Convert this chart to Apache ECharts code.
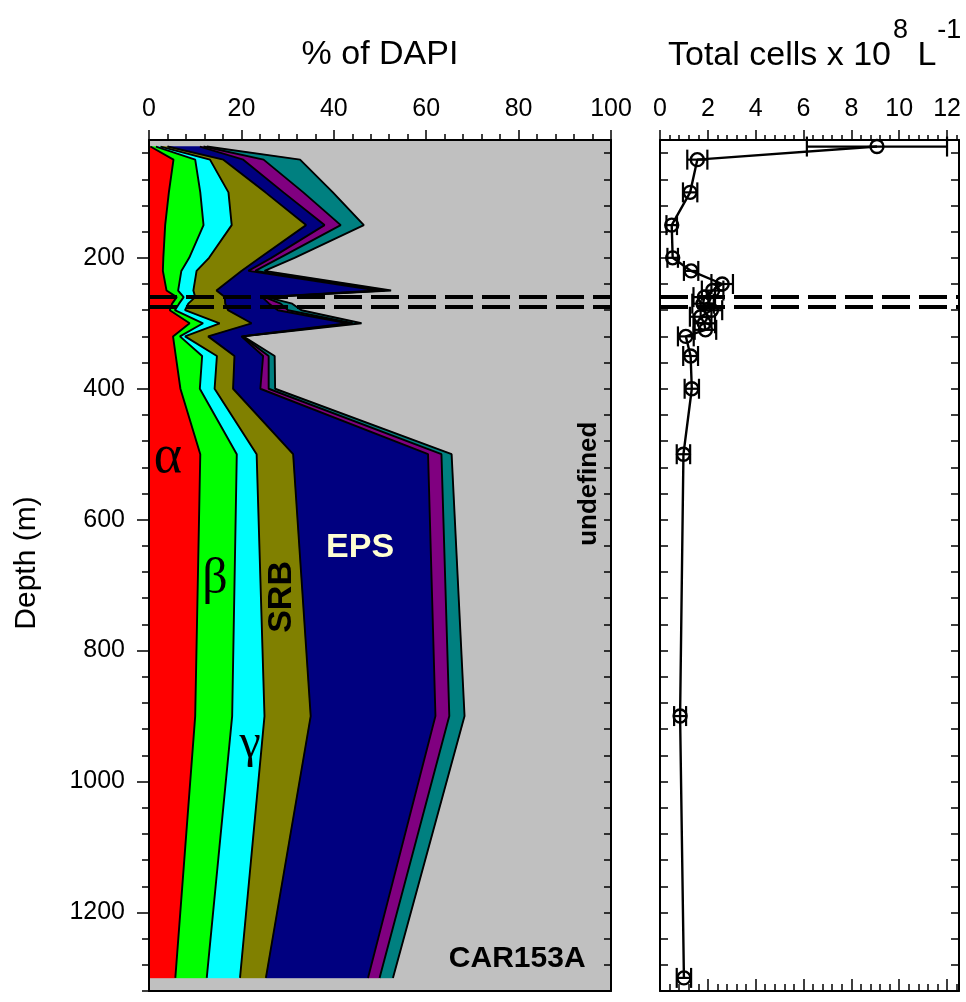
<!DOCTYPE html>
<html>
<head>
<meta charset="utf-8">
<script src="https://cdn.jsdelivr.net/npm/echarts@6.0.0/dist/echarts.min.js"></script>
<style>
html,body{margin:0;padding:0;background:#ffffff;}
#chart{width:966px;height:1002px;}
</style>
</head>
<body>
<div id="chart"></div>
<script>
// ---------------- data: % of DAPI per group, by depth (m) ----------------
const depths  = [30, 50, 100, 150, 200, 220, 250, 260, 270, 280, 300, 320, 350, 400, 500, 900, 1300];
const alpha   = [0.3, 5.3, 4.3, 3.5, 3.1, 3.0, 3.8, 6.0, 5.0, 4.5, 8.8, 5.2, 5.8, 6.8, 11.1, 10.0, 5.7];
const beta    = [1.2, 4.7, 6.8, 8.3, 5.6, 4.0, 2.5, 1.5, 1.5, 1.1, 2.9, 1.5, 5.7, 4.2, 7.9, 8.0, 6.8];
const gamma   = [1.0, 3.2, 6.1, 6.1, 4.3, 3.3, 3.3, 2.5, 2.0, 2.2, 3.6, 1.1, 3.2, 3.2, 4.3, 7.0, 7.2];
const srb     = [1.5, 2.9, 8.0, 16.1, 11.0, 9.7, 5.0, 6.4, 8.0, 9.3, 6.9, 5.0, 3.8, 4.0, 7.9, 10.0, 5.6];
const eps     = [7.0, 4.3, 3.9, 4.0, 2.5, 1.5, 34.9, 8.1, 9.5, 10.8, 20.8, 7.2, 6.2, 5.9, 29.2, 27.0, 22.1];
const cfb     = [0.8, 4.4, 4.3, 3.5, 1.8, 1.5, 1.5, 0.5, 2.5, 2.2, 1.1, 0.2, 1.2, 1.8, 2.9, 3.0, 2.5];
const archaea = [0.7, 7.9, 6.4, 5.0, 3.2, 2.0, 1.4, 0.5, 2.5, 2.9, 1.9, 0.2, 1.3, 1.4, 2.2, 3.3, 2.9];

// ---------------- data: total cells x 10^8 per L ----------------
const cellDepth = [30, 50, 100, 150, 200, 220, 240, 250, 260, 270, 280, 290, 300, 310, 320, 350, 400, 500, 900, 1300];
const cells     = [9.07, 1.56, 1.26, 0.49, 0.53, 1.3, 2.6, 2.2, 1.85, 1.8, 2.15, 1.7, 1.85, 1.9, 1.08, 1.28, 1.33, 0.98, 0.84, 1.0];
const cellErr   = [2.93, 0.42, 0.3, 0.22, 0.22, 0.3, 0.45, 0.45, 0.45, 0.45, 0.45, 0.45, 0.45, 0.45, 0.33, 0.31, 0.3, 0.28, 0.25, 0.3];

// interface depths (dashed lines)
const dashDepths = [260, 274];

// tick labels
const pctLabels   = [0, 20, 40, 60, 80, 100];
const cellLabels  = [0, 2, 4, 6, 8, 10, 12];
const depthLabels = [200, 400, 600, 800, 1000, 1200];

// in-plot annotations (text, % position, depth)
const annoText  = ['α', 'β', 'γ', 'SRB', 'EPS', 'undefined', 'CAR153A'];
const annoPct   = [4.1, 14.3, 21.9, 28.8, 45.7, 95.2, 79.7];
const annoDepth = [506, 692, 944, 718, 642, 545, 1270];

// ---------------- derived tables ----------------
const depthMinor = []; for (let v = 40; v <= 1320; v += 40) depthMinor.push(v);
const pctMinor = []; for (let k = 0; k <= 25; k++) pctMinor.push(k * 4);
const cellMinor = []; for (let k = 0; k <= 31; k++) cellMinor.push(Math.round(k * 4) / 10);

const layerValues = [alpha, beta, gamma, srb, eps, cfb, archaea];
const layerNames  = ['alpha', 'beta', 'gamma', 'SRB', 'EPS', 'CFB', 'Archaea'];
const layerColors = ['#FF0000', '#00FF00', '#00FFFF', '#808000', '#000080', '#800080', '#008080'];
const cum = [];
let run = depths.map(() => 0);
layerValues.forEach(vals => { run = run.map((r, i) => r + vals[i]); cum.push(run.slice()); });

const FONT = "'Liberation Sans', Arial, Helvetica, sans-serif";
const SERIF = "'Liberation Serif', 'DejaVu Serif', 'Times New Roman', serif";
const BLACK = '#000000';

function textWidth(t, size) {
  const c = document.createElement('canvas').getContext('2d');
  c.font = size + 'px ' + FONT;
  return c.measureText(t).width;
}

const chart = echarts.init(document.getElementById('chart'));

const D_MIN = 20, D_MAX = 1320;
const lineStyle2 = { color: BLACK, width: 2 };
const plain = v => String(v);

function depthAxis(grid, pos, opts) {
  return Object.assign({
    type: 'value', gridIndex: grid, position: pos, inverse: true,
    min: D_MIN, max: D_MAX, z: 20,
    axisLine: { show: false, onZero: false, lineStyle: lineStyle2 },
    axisTick: { show: false },
    axisLabel: { show: false },
    splitLine: { show: false }
  }, opts);
}

const xAxes = [
  // 0: left plot top, labels + major ticks
  { type: 'value', gridIndex: 0, position: 'top', min: 0, max: 100, z: 20,
    axisLine: { show: true, onZero: false, lineStyle: lineStyle2 },
    axisTick: { show: true, customValues: pctLabels, length: 10, lineStyle: { color: BLACK, width: 1.5 } },
    axisLabel: { show: true, customValues: pctLabels, formatter: plain, fontSize: 25, fontFamily: FONT, color: BLACK, margin: 18 },
    splitLine: { show: false } },
  // 1: left plot top minor ticks
  { type: 'value', gridIndex: 0, position: 'top', min: 0, max: 100, z: 20,
    axisLine: { show: false, onZero: false },
    axisTick: { show: true, customValues: pctMinor, length: 6, lineStyle: { color: BLACK, width: 1.5 } },
    axisLabel: { show: false }, splitLine: { show: false } },
  // 2: left plot bottom line
  { type: 'value', gridIndex: 0, position: 'bottom', min: 0, max: 100, z: 20,
    axisLine: { show: true, onZero: false, lineStyle: lineStyle2 },
    axisTick: { show: false }, axisLabel: { show: false }, splitLine: { show: false } },
  // 3: right plot top, labels + major ticks
  { type: 'value', gridIndex: 1, position: 'top', min: 0, max: 12.5, z: 20,
    axisLine: { show: true, onZero: false, lineStyle: lineStyle2 },
    axisTick: { show: true, customValues: cellLabels, length: 10, lineStyle: { color: BLACK, width: 1.5 } },
    axisLabel: { show: true, customValues: cellLabels, formatter: plain, fontSize: 25, fontFamily: FONT, color: BLACK, margin: 18 },
    splitLine: { show: false } },
  // 4: right plot top minor
  { type: 'value', gridIndex: 1, position: 'top', min: 0, max: 12.5, z: 20,
    axisLine: { show: false, onZero: false },
    axisTick: { show: true, customValues: cellMinor, length: 5, lineStyle: { color: BLACK, width: 1.5 } },
    axisLabel: { show: false }, splitLine: { show: false } },
  // 5: right plot bottom major (inside)
  { type: 'value', gridIndex: 1, position: 'bottom', min: 0, max: 12.5, z: 20,
    axisLine: { show: true, onZero: false, lineStyle: lineStyle2 },
    axisTick: { show: true, inside: true, customValues: cellLabels, length: 12, lineStyle: { color: BLACK, width: 1.5 } },
    axisLabel: { show: false }, splitLine: { show: false } },
  // 6: right plot bottom minor (inside)
  { type: 'value', gridIndex: 1, position: 'bottom', min: 0, max: 12.5, z: 20,
    axisLine: { show: false, onZero: false },
    axisTick: { show: true, inside: true, customValues: cellMinor, length: 7, lineStyle: { color: BLACK, width: 1.5 } },
    axisLabel: { show: false }, splitLine: { show: false } }
];

const yAxes = [
  // 0: left plot, labels + major ticks
  depthAxis(0, 'left', {
    axisLine: { show: true, onZero: false, lineStyle: lineStyle2 },
    axisTick: { show: true, customValues: depthLabels, length: 12, lineStyle: { color: BLACK, width: 1.5 } },
    axisLabel: { show: true, customValues: depthLabels, formatter: plain, fontSize: 25, fontFamily: FONT, color: BLACK, margin: 24 }
  }),
  // 1: left plot, minor ticks
  depthAxis(0, 'left', {
    axisTick: { show: true, customValues: depthMinor, length: 7, lineStyle: { color: BLACK, width: 1.5 } }
  }),
  // 2: left plot right side, inside ticks
  depthAxis(0, 'right', {
    axisLine: { show: true, onZero: false, lineStyle: lineStyle2 },
    axisTick: { show: true, inside: true, customValues: depthMinor, length: 7, lineStyle: { color: BLACK, width: 1.5 } }
  }),
  // 3: right plot left side
  depthAxis(1, 'left', {
    axisLine: { show: true, onZero: false, lineStyle: lineStyle2 },
    axisTick: { show: true, inside: true, customValues: depthMinor, length: 8, lineStyle: { color: BLACK, width: 1.5 } }
  }),
  // 4: right plot right side
  depthAxis(1, 'right', {
    axisLine: { show: true, onZero: false, lineStyle: lineStyle2 },
    axisTick: { show: true, inside: true, customValues: depthMinor, length: 8, lineStyle: { color: BLACK, width: 1.5 } }
  })
];

// ---------------- series ----------------
const series = [];

// stacked layers as polygons
series.push({
  type: 'custom', name: 'layers', xAxisIndex: 0, yAxisIndex: 0, z: 2, silent: true,
  data: layerNames.map((n, k) => ({ name: n, value: [k] })),
  encode: { x: 0 },
  renderItem: function (params, api) {
    const k = params.dataIndex;
    const pts = [];
    for (let i = 0; i < depths.length; i++) pts.push(api.coord([cum[k][i], depths[i]]));
    for (let i = depths.length - 1; i >= 0; i--) pts.push(api.coord([k === 0 ? 0 : cum[k - 1][i], depths[i]]));
    return { type: 'polygon', shape: { points: pts }, style: { fill: layerColors[k], stroke: layerColors[k], lineWidth: 0.5 } };
  }
});

// black boundary lines between layers
cum.forEach((c, k) => {
  series.push({
    type: 'line', name: layerNames[k] + ' edge', xAxisIndex: 0, yAxisIndex: 0, z: 3, silent: true,
    showSymbol: false, symbol: 'none', animation: false,
    lineStyle: { color: BLACK, width: 1.9 },
    data: depths.map((d, i) => [c[i], d])
  });
});

// dashed interface lines (both panels)
[[0, 0], [3, 3]].forEach(([xi, yi]) => {
  series.push({
    type: 'line', xAxisIndex: xi, yAxisIndex: yi, z: 6, silent: true, data: [],
    markLine: {
      silent: true, symbol: ['none', 'none'], label: { show: false },
      lineStyle: { color: BLACK, width: 4, type: [28, 9] },
      animation: false,
      data: dashDepths.map(d => ({ yAxis: d }))
    }
  });
});

// annotations in the left panel
const annoStyles = [
  { fontFamily: SERIF, fontSize: 54, color: '#000' },
  { fontFamily: SERIF, fontSize: 50, color: '#000' },
  { fontFamily: SERIF, fontSize: 48, color: '#000' },
  { fontFamily: FONT, fontSize: 34, fontWeight: 'bold', color: '#000', rotate: 90 },
  { fontFamily: FONT, fontSize: 34, fontWeight: 'bold', color: '#FFFFD2' },
  { fontFamily: FONT, fontSize: 26, fontWeight: 'bold', color: '#000', rotate: 90 },
  { fontFamily: FONT, fontSize: 30, fontWeight: 'bold', color: '#000' }
];
series.push({
  type: 'scatter', xAxisIndex: 0, yAxisIndex: 0, z: 8, silent: true,
  symbolSize: 1, itemStyle: { color: 'rgba(0,0,0,0)', opacity: 1 },
  data: annoText.map((t, i) => ({
    value: [annoPct[i], annoDepth[i]],
    label: Object.assign({ show: true, position: 'inside', formatter: t, align: 'center', verticalAlign: 'middle', opacity: 1, textBorderWidth: 0 }, annoStyles[i])
  }))
});

// total cells profile
series.push({
  type: 'line', name: 'Total cells', xAxisIndex: 3, yAxisIndex: 3, z: 4,
  symbol: 'circle', symbolSize: 13, showSymbol: true,
  itemStyle: { color: 'rgba(255,255,255,0)', borderColor: BLACK, borderWidth: 2.4 },
  lineStyle: { color: BLACK, width: 2.4 },
  data: cellDepth.map((d, i) => [cells[i], d])
});
// error bars
series.push({
  type: 'custom', name: 'error', xAxisIndex: 3, yAxisIndex: 3, z: 5, silent: true,
  data: cellDepth.map((d, i) => [cells[i], d, cellErr[i]]),
  encode: { x: 0, y: 1 },
  renderItem: function (params, api) {
    const x = api.value(0), d = api.value(1), e = api.value(2);
    const a = api.coord([x - e, d]), b = api.coord([x + e, d]);
    const h = 10;
    const st = { stroke: BLACK, lineWidth: 2.2 };
    return { type: 'group', children: [
      { type: 'line', shape: { x1: a[0], y1: a[1], x2: b[0], y2: b[1] }, style: st },
      { type: 'line', shape: { x1: a[0], y1: a[1] - h, x2: a[0], y2: a[1] + h }, style: st },
      { type: 'line', shape: { x1: b[0], y1: b[1] - h, x2: b[0], y2: b[1] + h }, style: st }
    ] };
  }
});

// ---------------- titles ----------------
const TS = 34, SS = 27;
const t1 = 'Total cells x 10';
const x0 = 668;
const w1 = textWidth(t1, TS);
const w8 = textWidth('8', SS);
const wL = textWidth(' L', TS);
const graphics = [
  { type: 'text', x: 380, y: 55, z: 30, style: { text: '% of DAPI', fontSize: TS, fontFamily: FONT, fill: BLACK, align: 'center', verticalAlign: 'middle' } },
  { type: 'text', x: x0, y: 56, z: 30, style: { text: t1, fontSize: TS, fontFamily: FONT, fill: BLACK, align: 'left', verticalAlign: 'middle' } },
  { type: 'text', x: x0 + w1 + 2, y: 31, z: 30, style: { text: '8', fontSize: SS, fontFamily: FONT, fill: BLACK, align: 'left', verticalAlign: 'middle' } },
  { type: 'text', x: x0 + w1 + w8 + 2, y: 56, z: 30, style: { text: ' L', fontSize: TS, fontFamily: FONT, fill: BLACK, align: 'left', verticalAlign: 'middle' } },
  { type: 'text', x: x0 + w1 + w8 + wL + 3, y: 31, z: 30, style: { text: '-1', fontSize: SS, fontFamily: FONT, fill: BLACK, align: 'left', verticalAlign: 'middle' } },
  { type: 'text', x: 27, y: 563, rotation: Math.PI / 2, z: 30, style: { text: 'Depth (m)', fontSize: 30, fontFamily: FONT, fill: BLACK, align: 'center', verticalAlign: 'middle' } }
];

chart.setOption({
  animation: false,
  backgroundColor: '#ffffff',
  grid: [
    { left: 149, top: 140, width: 462, height: 851, show: true, backgroundColor: '#C0C0C0', borderWidth: 0 },
    { left: 660, top: 140, width: 299, height: 851, show: true, backgroundColor: '#ffffff', borderWidth: 0 }
  ],
  xAxis: xAxes,
  yAxis: yAxes,
  series: series,
  graphic: graphics
});
</script>
</body>
</html>
